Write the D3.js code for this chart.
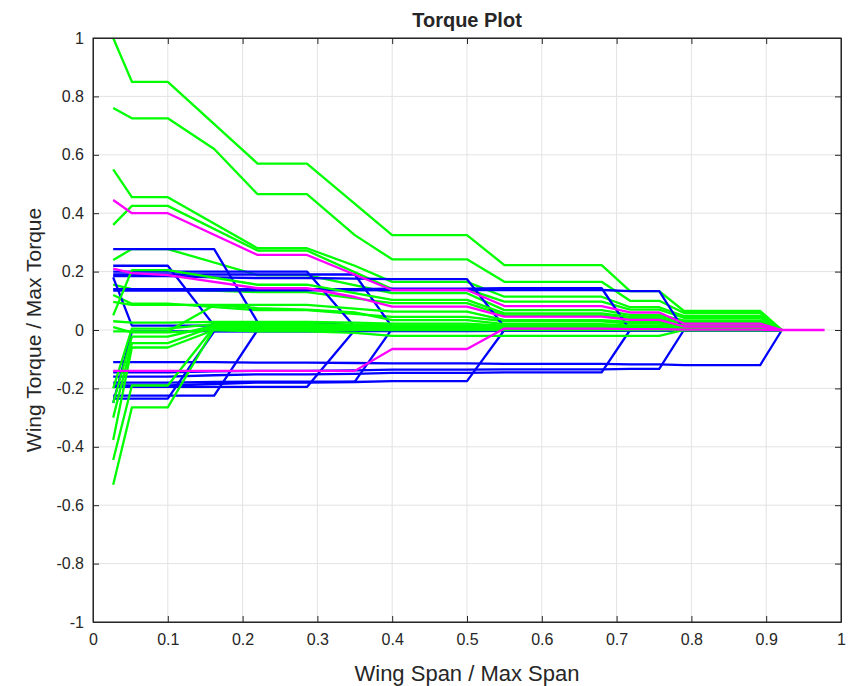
<!DOCTYPE html>
<html lang="en">
<head>
	<meta charset="UTF-8"/>
	<title>Torque Plot</title>
	<style>
	body { margin: 0; background: #ffffff; }
	svg text { font-family: "Liberation Sans", Arial, sans-serif; fill: #262626; }
	</style>
	<script src="https://d3js.org/d3.v7.min.js"></script>
</head>
<body>
	<div id="chart"></div>
	<script>

	// span stations shared by every curve (wing span / max span)
	var spanPoints = [0.027, 0.052, 0.1, 0.162, 0.22, 0.286, 0.35, 0.4, 0.5, 0.55,
	                  0.68, 0.718, 0.757, 0.79, 0.892, 0.921, 0.978];

	// torque / max torque at each station, null = no vertex there
	var greenTorque = [
		[1.0, 0.85, 0.85, null, 0.57, 0.57, null, 0.325, 0.325, 0.222, 0.222, 0.133, 0.133, 0.065, 0.065, 0],
		[0.76, 0.725, 0.725, 0.62, 0.465, 0.465, 0.325, 0.242, 0.242, 0.165, 0.165, 0.1, 0.1, 0.058, 0.058, 0],
		[0.55, 0.455, 0.455, null, 0.28, 0.28, 0.22, 0.165, 0.165, 0.114, 0.114, 0.078, 0.078, 0.048, 0.048, 0],
		[0.36, 0.425, 0.425, null, 0.272, 0.272, null, 0.14, 0.14, 0.097, 0.097, 0.07, 0.07, 0.042, 0.042, 0],
		[0.24, 0.277, 0.277, null, 0.188, 0.188, null, 0.126, 0.126, 0.068, 0.068, 0.052, 0.052, 0.033, 0.033, 0],
		[0.05, 0.205, 0.205, null, 0.155, 0.155, null, 0.103, 0.103, 0.057, 0.057, 0.045, 0.045, 0.028, 0.028, 0],
		[0.155, 0.14, 0.14, null, 0.13, 0.13, null, 0.092, 0.092, 0.05, 0.05, 0.038, 0.038, 0.022, 0.022, 0],
		[0.096, 0.086, 0.086, null, 0.086, 0.086, null, 0.063, 0.063, 0.034, 0.034, 0.028, 0.028, 0.016, 0.016, 0],
		[0.12, 0.09, 0.09, null, 0.068, 0.068, null, 0.045, 0.045, 0.03, 0.03, 0.022, 0.022, 0.012, 0.012, 0],
		[-0.005, -0.005, -0.005, 0.085, 0.075, 0.07, 0.06, 0.034, 0.034, 0.02, 0.02, 0.015, 0.015, 0.01, 0.01, 0],
		[-0.53, -0.265, -0.265, 0.005, 0.005, 0.005, 0.003, 0.003, 0.003, 0.002, 0.002, 0.001, 0.001, 0, 0, 0],
		[-0.445, -0.19, -0.19, 0.01, 0.01, 0.01, 0.008, 0.006, 0.006, 0.004, 0.004, 0.003, 0.003, 0.002, 0.002, 0],
		[-0.377, -0.06, -0.06, 0.0, -0.005, -0.005, -0.01, -0.02, -0.02, -0.02, -0.02, -0.02, -0.02, 0, 0, 0],
		[-0.30, -0.045, -0.045, 0.012, 0.012, 0.012, 0.01, 0.01, 0.01, 0.008, 0.008, 0.005, 0.005, 0.003, 0.003, 0],
		[-0.25, -0.023, -0.023, 0.015, 0.015, 0.015, 0.012, 0.012, 0.012, 0.01, 0.01, 0.006, 0.006, 0.004, 0.004, 0],
		[-0.2, 0.005, 0.005, 0.02, 0.02, 0.02, 0.018, 0.016, 0.016, 0.012, 0.012, 0.008, 0.008, 0.005, 0.005, 0],
		[0.01, -0.008, -0.008, 0.0, 0.0, 0.0, 0.0, 0.0, 0.0, 0.0, 0.0, 0.0, 0.0, 0, 0, 0],
		[0.03, 0.025, 0.025, 0.028, 0.028, 0.028, 0.025, 0.022, 0.022, 0.015, 0.015, 0.01, 0.01, 0.006, 0.006, 0]
	];

	var blueTorque = [
		[0.18, 0.015, 0.015, 0.015, 0.012, 0.012, 0.01, 0.01, 0.01, 0.008, 0.008, 0.005, 0.005, 0.003, 0.003, 0],
		[0.22, 0.22, 0.22, 0.015, 0.015, 0.015, 0.012, 0.01, 0.01, 0.008, 0.008, 0.005, 0.005, 0.003, 0.003, 0],
		[0.277, 0.277, 0.277, 0.277, 0.027, 0.027, 0.015, 0.01, 0.01, 0.008, 0.008, 0.005, 0.005, 0.003, 0.003, 0],
		[0.2, 0.2, 0.2, 0.2, 0.2, 0.2, 0.01, 0.01, 0.01, 0.008, 0.008, 0.005, 0.005, 0.003, 0.003, 0],
		[0.19, 0.19, 0.19, 0.19, 0.19, 0.19, 0.19, 0.01, 0.01, 0.008, 0.008, 0.005, 0.005, 0.003, 0.003, 0],
		[0.185, 0.185, 0.185, 0.18, 0.178, 0.178, 0.176, 0.174, 0.174, 0.01, 0.01, 0.005, 0.005, 0.003, 0.003, 0],
		[0.14, 0.14, 0.14, 0.14, 0.14, 0.14, 0.14, 0.142, 0.142, 0.143, 0.143, 0.0, 0.0, 0, 0, 0],
		[0.135, 0.135, 0.135, 0.135, 0.136, 0.136, 0.136, 0.137, 0.137, 0.137, 0.137, 0.133, 0.133, 0, 0, 0],
		[-0.25, -0.005, -0.005, -0.004, -0.004, -0.004, -0.003, -0.003, -0.003, -0.002, -0.002, -0.001, -0.001, 0, 0, 0],
		[-0.235, -0.235, -0.235, -0.005, -0.005, -0.005, -0.004, -0.004, -0.004, -0.003, -0.003, -0.002, -0.002, 0, 0, 0],
		[-0.225, -0.225, -0.225, -0.225, 0.0, 0.0, 0.0, 0.0, 0.0, 0.0, 0.0, 0.0, 0.0, 0, 0, 0],
		[-0.195, -0.195, -0.195, -0.195, -0.195, -0.195, 0.0, 0.0, 0.0, 0.0, 0.0, 0.0, 0.0, 0, 0, 0],
		[-0.18, -0.18, -0.18, -0.178, -0.177, -0.177, -0.177, 0.005, 0.005, 0.003, 0.003, 0.002, 0.002, 0, 0, 0],
		[-0.19, -0.19, -0.19, -0.185, -0.18, -0.18, -0.178, -0.175, -0.175, 0.0, 0.0, 0.0, 0.0, 0, 0, 0],
		[-0.16, -0.16, -0.16, -0.155, -0.152, -0.152, -0.15, -0.147, -0.147, -0.145, -0.145, 0.0, 0.0, 0, 0, 0],
		[-0.145, -0.145, -0.145, -0.142, -0.14, -0.14, -0.138, -0.136, -0.136, -0.135, -0.135, -0.133, -0.133, 0, 0, 0],
		[-0.11, -0.11, -0.11, -0.11, -0.112, -0.112, -0.113, -0.114, -0.114, -0.116, -0.116, -0.118, -0.118, -0.12, -0.12, 0]
	];

	var magentaTorque = [
		[0.445, 0.40, 0.40, null, 0.257, 0.257, null, 0.137, 0.137, 0.082, 0.082, 0.06, 0.06, 0.022, 0.022, 0],
		[0.21, 0.195, 0.188, null, 0.143, 0.143, 0.113, 0.08, 0.08, 0.046, 0.046, 0.035, 0.035, 0.012, 0.012, 0],
		[-0.14, -0.14, -0.14, -0.14, -0.14, -0.14, -0.14, -0.065, -0.065, 0.005, 0.005, 0.003, 0.003, 0.001, 0.001, 0, 0]
	];

	var xTicks = [0, 0.1, 0.2, 0.3, 0.4, 0.5, 0.6, 0.7, 0.8, 0.9, 1];
	var yTicks = [-1, -0.8, -0.6, -0.4, -0.2, 0, 0.2, 0.4, 0.6, 0.8, 1];

	var w = 866;
	var h = 686;
	var margin = {top: 38, right: 25, bottom: 64, left: 93};

	var svg = d3.select("#chart")
			.append("svg")
			.attr("width", w)
			.attr("height", h);

	var xScale = d3.scaleLinear()
			.domain([0, 1])
			.range([margin.left, w - margin.right]);

	var yScale = d3.scaleLinear()
			.domain([-1, 1])
			.range([h - margin.bottom, margin.top]);

	var x0 = xScale(0), x1 = xScale(1), y0 = yScale(-1), y1 = yScale(1);

	// matlab style labels: plain hyphen, no trailing zeros
	function tickText(d) {
		return String(+d.toFixed(2));
	}

	//grid
	svg.append("g")
		.selectAll("line.vgrid")
		.data(xTicks)
		.enter()
		.append("line")
		.attr("x1", function(d) { return xScale(d); })
		.attr("x2", function(d) { return xScale(d); })
		.attr("y1", y1)
		.attr("y2", y0)
		.attr("stroke", "#e3e3e3")
		.attr("stroke-width", 1);

	svg.append("g")
		.selectAll("line.hgrid")
		.data(yTicks)
		.enter()
		.append("line")
		.attr("x1", x0)
		.attr("x2", x1)
		.attr("y1", function(d) { return yScale(d); })
		.attr("y2", function(d) { return yScale(d); })
		.attr("stroke", "#e3e3e3")
		.attr("stroke-width", 1);

	//curves
	var line = d3.line()
			.x(function(p) { return xScale(p[0]); })
			.y(function(p) { return yScale(p[1]); });

	function toPoints(values) {
		var pts = [];
		values.forEach(function(v, i) {
			if (v !== null && v !== undefined) pts.push([spanPoints[i], v]);
		});
		return pts;
	}

	function drawSet(data, colour) {
		svg.append("g")
			.selectAll("path")
			.data(data)
			.enter()
			.append("path")
			.attr("d", function(d) { return line(toPoints(d)); })
			.attr("fill", "none")
			.attr("stroke", colour)
			.attr("stroke-width", 2.3)
			.attr("stroke-linejoin", "round");
	}

	// upper green curves sit under the blue ones, the ones collapsing to zero on top
	var greenUpper = greenTorque.filter(function(d) { return d[0] > 0.1; });
	var greenLower = greenTorque.filter(function(d) { return d[0] <= 0.1; });

	drawSet(greenUpper, "#00ff00");
	drawSet(blueTorque, "#0000ff");
	drawSet(greenLower, "#00ff00");
	drawSet(magentaTorque, "#ff00ff");

	//axes
	var xAxis = d3.axisBottom(xScale)
			.tickValues(xTicks)
			.tickSizeInner(-6)
			.tickSizeOuter(0)
			.tickPadding(12)
			.tickFormat(tickText);

	var yAxis = d3.axisLeft(yScale)
			.tickValues(yTicks)
			.tickSizeInner(-6)
			.tickSizeOuter(0)
			.tickPadding(9)
			.tickFormat(tickText);

	svg.append("g")
		.attr("transform", "translate(0," + y0 + ")")
		.call(xAxis);

	svg.append("g")
		.attr("transform", "translate(" + x0 + ",0)")
		.call(yAxis);

	//top and right ticks
	svg.append("g")
		.attr("transform", "translate(0," + y1 + ")")
		.call(d3.axisTop(xScale).tickValues(xTicks).tickSizeInner(-6).tickSizeOuter(0).tickFormat(""));
	svg.append("g")
		.attr("transform", "translate(" + x1 + ",0)")
		.call(d3.axisRight(yScale).tickValues(yTicks).tickSizeInner(-6).tickSizeOuter(0).tickFormat(""));

	svg.selectAll(".domain").attr("stroke", "#262626");
	svg.selectAll(".tick line").attr("stroke", "#262626");
	svg.selectAll(".tick text")
		.attr("font-size", "16px")
		.attr("font-family", "Liberation Sans, Arial, sans-serif")
		.attr("fill", "#262626");

	svg.append("rect")
		.attr("x", x0)
		.attr("y", y1)
		.attr("width", x1 - x0)
		.attr("height", y0 - y1)
		.attr("fill", "none")
		.attr("stroke", "#262626")
		.attr("stroke-width", 1);

	//labels
	svg.append("text")
		.attr("x", (x0 + x1) / 2)
		.attr("y", 27)
		.attr("text-anchor", "middle")
		.attr("font-size", "20px")
		.attr("font-weight", "bold")
		.attr("fill", "#000")
		.text("Torque Plot");

	svg.append("text")
		.attr("x", (x0 + x1) / 2)
		.attr("y", 681)
		.attr("text-anchor", "middle")
		.attr("font-size", "22px")
		.text("Wing Span / Max Span");

	svg.append("text")
		.attr("transform", "translate(41," + ((y0 + y1) / 2) + ") rotate(-90)")
		.attr("text-anchor", "middle")
		.attr("font-size", "21px")
		.text("Wing Torque / Max Torque");

	</script>
</body>
</html>
